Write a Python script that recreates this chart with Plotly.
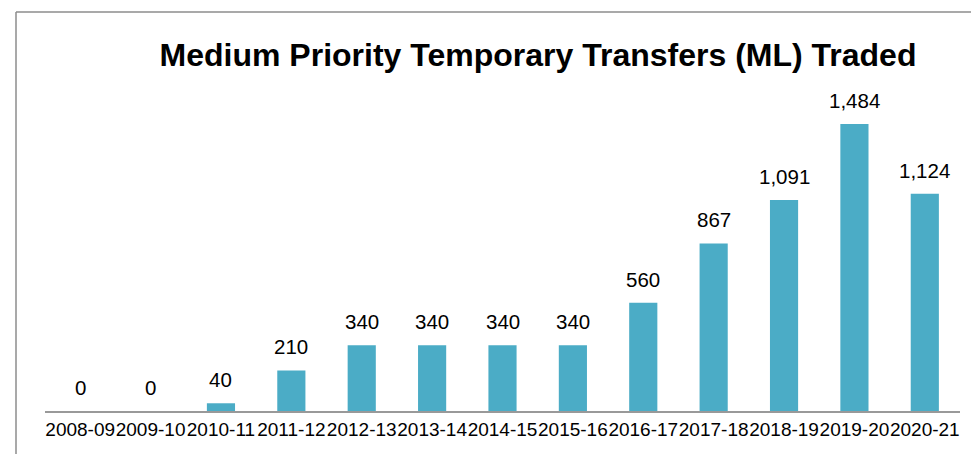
import plotly.graph_objects as go

categories = ["2008-09", "2009-10", "2010-11", "2011-12", "2012-13", "2013-14", "2014-15",
              "2015-16", "2016-17", "2017-18", "2018-19", "2019-20", "2020-21"]
values = [0, 0, 40, 210, 340, 340, 340, 340, 560, 867, 1091, 1484, 1124]

W, H = 971, 454
L, R, T, B = 45, 11, 63, 43
pw, ph = W - L - R, H - T - B

def px2paper(x, y):
    return (x - L) / pw, (H - B - y) / ph

fig = go.Figure()
fig.add_trace(go.Bar(x=categories, y=values, marker=dict(color="#4BACC6", line=dict(width=0)),
                     hoverinfo="x+y"))

for c, v in zip(categories, values):
    fig.add_annotation(x=c, y=v, text=f"{v:,}", showarrow=False, yanchor="bottom",
                       yshift=10, font=dict(size=20.5, color="#000000"))

x0, y0 = px2paper(16, 460)
x1, y1 = px2paper(16, 12)
x2, _ = px2paper(975, 12)
fig.add_shape(type="line", xref="paper", yref="paper", x0=x0, y0=y0, x1=x1, y1=y1,
              line=dict(color="#8c8c8c", width=1.5))
fig.add_shape(type="line", xref="paper", yref="paper", x0=x1, y0=y1, x1=x2, y1=y1,
              line=dict(color="#8c8c8c", width=1.5))

fig.update_layout(
    width=W, height=H,
    margin=dict(l=L, r=R, t=T, b=B, autoexpand=False),
    paper_bgcolor="white", plot_bgcolor="white",
    bargap=0.6,
    showlegend=False,
    font=dict(family="Liberation Sans, Arial, sans-serif", color="#000000"),
    title=dict(text="<b>Medium Priority Temporary Transfers (ML) Traded</b>",
               x=538 / W, xanchor="center", y=1 - 55 / H, yanchor="middle",
               font=dict(size=32, color="#000000")),
    xaxis=dict(type="category", showline=True, linecolor="#999999", linewidth=2, ticks="",
               tickangle=0, automargin=False,
               tickfont=dict(size=19, color="#000000"), showgrid=False, zeroline=False),
    yaxis=dict(range=[0, 1800], visible=False, showgrid=False, zeroline=False,
               automargin=False),
)

fig.write_html("out.html")
